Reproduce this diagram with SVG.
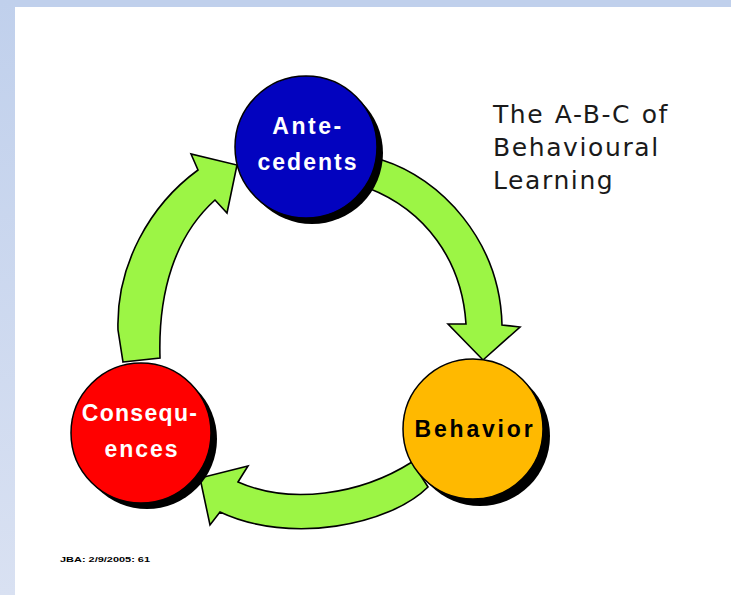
<svg xmlns="http://www.w3.org/2000/svg" width="731" height="595" viewBox="0 0 731 595">
  <defs>
    <linearGradient id="edge" x1="0" y1="0" x2="0" y2="1">
      <stop offset="0" stop-color="#c0d0ec"/>
      <stop offset="1" stop-color="#d9e1f2"/>
    </linearGradient>
    <style>
      .arrow { fill: #9cf545; stroke: #000; stroke-width: 1.6; stroke-linejoin: miter; }
      .shadow { fill: #000; }
      .disc { stroke: #000; stroke-width: 1.5; }
      .lbl { font-family: "Liberation Sans", Arial, sans-serif; font-weight: bold; font-size: 23px; text-anchor: middle; }
      .title { font-family: "DejaVu Sans", Verdana, sans-serif; font-size: 25px; fill: #1a1a1a; letter-spacing: 1.6px; word-spacing: 1px; }
      .note { font-family: "Liberation Sans", Arial, sans-serif; font-weight: bold; font-size: 8px; fill: #000; }
    </style>
  </defs>

  <!-- slide background with tinted frame -->
  <rect x="0" y="0" width="731" height="595" fill="#ffffff"/>
  <rect x="0" y="0" width="731" height="7" fill="#c0d0ec"/>
  <rect x="0" y="0" width="15" height="595" fill="url(#edge)"/>

  <!-- cycle arrows -->
  <g id="connectors">
    <path class="arrow" d="M123,362 L160,358 C158,292 175,236 215,200 L227,213 L237,165 L191,154 L198,170 C150,205 116,265 118,330 Z"/>
    <path class="arrow" d="M382,160 C440,178 500,240 502,325 L520,327 L483,360 L448,324 L466,324 C462,260 425,210 368,188 Z"/>
    <path class="arrow" d="M412,462 L428,487 C390,525 290,545 220,512 L210,525 L200,478 L248,466 L238,482 C290,505 360,495 412,462 Z"/>
  </g>

  <g id="antecedents">
    <circle class="shadow" cx="312" cy="153" r="71"/>
    <circle class="disc" cx="306" cy="147" r="71" fill="#0303bf"/>
    <text class="lbl" x="308" y="134" fill="#fff" letter-spacing="2.5">Ante-</text>
    <text class="lbl" x="308" y="170" fill="#fff" letter-spacing="2">cedents</text>
  </g>

  <g id="behavior">
    <circle class="shadow" cx="480" cy="436" r="70"/>
    <circle class="disc" cx="473" cy="429" r="70" fill="#ffb900"/>
    <text class="lbl" x="475" y="437" fill="#000" letter-spacing="2.8">Behavior</text>
  </g>

  <g id="consequences">
    <circle class="shadow" cx="147" cy="439" r="70"/>
    <circle class="disc" cx="141" cy="433" r="70" fill="#ff0000"/>
    <text class="lbl" x="140" y="421" fill="#fff" letter-spacing="1.3">Consequ-</text>
    <text class="lbl" x="142" y="457" fill="#fff" letter-spacing="2">ences</text>
  </g>

  <g id="title">
    <text class="title" x="493" y="123">The A-B-C of</text>
    <text class="title" x="493" y="156">Behavioural</text>
    <text class="title" x="493" y="189">Learning</text>
  </g>

  <text class="note" x="60" y="562" textLength="90" lengthAdjust="spacingAndGlyphs">JBA: 2/9/2005: 61</text>
</svg>
